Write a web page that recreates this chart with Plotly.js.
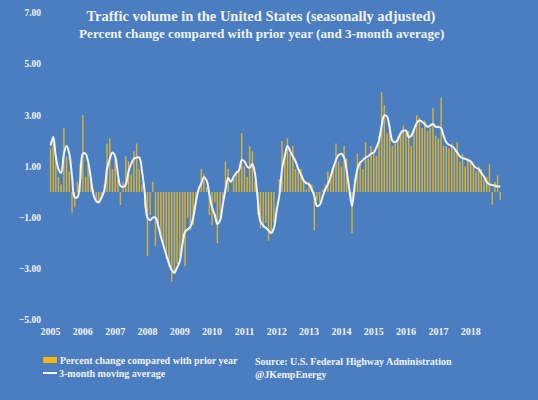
<!DOCTYPE html>
<html>
<head>
<meta charset="utf-8">
<script src="https://cdn.plot.ly/plotly-3.0.1.min.js"></script>
<style>
html,body{margin:0;padding:0;background:#4a7ec1;}
#chart{width:538px;height:400px;}
</style>
</head>
<body>
<div id="chart"></div>
<script>
// Years shown on the axis
const years = [2005,2006,2007,2008,2009,2010,2011,2012,2013,2014,2015,2016,2017,2018];

// Percent change compared with prior year (monthly, Jan 2005 - Dec 2018)
const pct2005 = [1.7, 2.2, 1.5, 0.6, 0.3, 2.5, 1.4, 0.8, -0.8, -0.6, 0.4, 1.1];
const pct2006 = [3.0, 0.6, 1.1, 0.5, 0.1, -0.3, -0.4, -0.1, 0.3, 1.9, 2.1, 0.9];
const pct2007 = [1.3, 0.5, -0.5, 0.4, 1.4, 1.2, 0.7, 1.6, 1.9, 0.9, 0.3, -0.6];
const pct2008 = [-2.5, -0.9, 0.4, -2.1, -1.4, -1.7, -2.1, -2.6, -2.9, -3.5, -3.2, -2.8];
const pct2009 = [-2.5, -2.0, -2.9, -1.0, -1.5, -1.3, -0.5, 0.2, 0.9, 0.7, 0.2, -0.9];
const pct2010 = [-1.3, -0.4, -2.0, -1.0, -0.3, 1.2, 0.9, 0.0, 0.5, 0.7, 0.9, 2.3];
const pct2011 = [1.0, 0.6, 1.8, 1.6, 0.4, -0.9, -1.4, -1.4, -1.2, -1.9, -1.6, -1.2];
const pct2012 = [0.0, 0.5, 2.0, 1.4, 2.1, 1.5, 1.8, 0.9, 0.8, 0.9, 0.4, 0.1];
const pct2013 = [0.4, 0.3, -1.5, -0.3, -0.4, 0.1, 0.3, 0.8, 0.7, 1.0, 1.9, 1.2];
const pct2014 = [1.0, 1.8, 1.3, -0.1, -1.6, 0.5, 1.5, 1.2, 0.9, 1.95, 1.3, 1.8];
const pct2015 = [1.5, 1.4, 2.2, 3.9, 3.4, 2.3, 2.6, 1.8, 1.9, 2.2, 2.3, 2.6];
const pct2016 = [2.3, 2.4, 1.8, 2.5, 3.0, 2.9, 2.5, 2.8, 2.4, 2.5, 3.3, 2.2];
const pct2017 = [2.1, 3.7, 1.8, 1.8, 1.7, 1.9, 1.6, 1.95, 1.2, 1.5, 1.0, 1.3];
const pct2018 = [1.2, 1.0, 0.8, 1.0, 0.9, 0.5, 0.6, 1.1, -0.5, 0.4, 0.65, -0.3];

// 3-month moving average
const avg2005 = [1.82, 2.14, 1.4, 0.9, 0.75, 1.5, 1.8, 1.5, 0.6, -0.2, -0.2, 0.4];
const avg2006 = [1.5, 1.5, 1.2, 0.55, -0.1, -0.35, -0.4, -0.2, 0.06, 0.9, 1.3, 1.55];
const avg2007 = [1.4, 0.7, 0.25, 0.2, 0.3, 0.8, 1.1, 1.3, 1.35, 1.35, 0.8, 0.0];
const avg2008 = [-1.0, -1.1, -1.0, -1.0, -1.3, -1.75, -2.1, -2.45, -2.8, -3.05, -3.15, -2.95];
const avg2009 = [-2.7, -2.0, -1.55, -1.45, -1.35, -1.0, -0.4, 0.1, 0.35, 0.58, 0.45, -0.1];
const avg2010 = [-0.6, -0.9, -1.25, -1.1, -0.5, 0.1, 0.55, 0.4, 0.6, 0.75, 0.85, 1.25];
const avg2011 = [1.2, 1.0, 0.95, 1.1, 0.7, -0.3, -1.15, -1.3, -1.4, -1.5, -1.6, -1.4];
const avg2012 = [-0.7, -0.1, 0.9, 1.4, 1.8, 1.6, 1.4, 1.2, 0.9, 0.7, 0.45, 0.35];
const avg2013 = [0.3, 0.1, -0.15, -0.55, -0.5, -0.2, 0.1, 0.3, 0.6, 0.95, 1.25, 1.45];
const avg2014 = [1.5, 1.35, 0.85, 0.1, -0.55, 0.3, 0.9, 1.15, 1.25, 1.35, 1.4, 1.5];
const avg2015 = [1.55, 1.75, 2.0, 2.6, 3.0, 2.95, 2.5, 2.0, 1.95, 2.05, 2.3, 2.4];
const avg2016 = [2.4, 2.15, 2.2, 2.45, 2.7, 2.8, 2.75, 2.65, 2.55, 2.6, 2.66, 2.55];
const avg2017 = [2.55, 2.5, 2.2, 1.95, 1.85, 1.8, 1.7, 1.55, 1.4, 1.33, 1.3, 1.25];
const avg2018 = [1.2, 1.05, 0.95, 0.9, 0.75, 0.6, 0.4, 0.3, 0.28, 0.25, 0.22, 0.22];

const yTicks = [-5, -3, -1, 1, 3, 5, 7];

const barName = 'Percent change compared with prior year';
const lineName = '3-month moving average';

const pctChange = [].concat(pct2005,pct2006,pct2007,pct2008,pct2009,pct2010,pct2011,
  pct2012,pct2013,pct2014,pct2015,pct2016,pct2017,pct2018);
const avg3m = [].concat(avg2005,avg2006,avg2007,avg2008,avg2009,avg2010,avg2011,
  avg2012,avg2013,avg2014,avg2015,avg2016,avg2017,avg2018);

const months = [];
years.forEach(y => { for (let m = 1; m <= 12; m++) months.push(y + '-' + String(m).padStart(2,'0') + '-01'); });

const FONT = 'Liberation Serif, Times New Roman, serif';
const TXT = '#f2f2f2';
const BAR = '#dcb22c';
const LINE = '#eef3ff';

const traces = [
  {
    type: 'bar', x: months, y: pctChange, name: barName,
    marker: {color: BAR, line: {width: 0}}
  },
  {
    type: 'scatter', mode: 'lines', x: months, y: avg3m, name: lineName,
    line: {color: LINE, width: 2, shape: 'spline', smoothing: 1}
  }
];

// paper-coordinate helpers for the text block below the plot
const PL = 44, PW = 468, PB = 320, PH = 307;
const px2x = p => (p - PL) / PW;
const px2y = p => (PB - p) / PH;
const note = (text, x, y, extra) => Object.assign({
  text, xref: 'paper', yref: 'paper', x: px2x(x), y: px2y(y),
  xanchor: 'left', yanchor: 'middle', showarrow: false,
  font: {family: FONT, size: 10, color: TXT, weight: 'bold'}
}, extra || {});
// legend keys: small coloured boxes (annotation background, no visible text)
const key = (color, x, y, w, h) => note('\u00a0', x, y, {
  width: w, height: h, bgcolor: color, borderpad: 0, borderwidth: 0,
  font: {family: FONT, size: 1, color: color}
});

const layout = {
  width: 538, height: 400,
  paper_bgcolor: '#4a7ec1', plot_bgcolor: '#4a7ec1',
  margin: {l: PL, r: 538 - PL - PW, t: 13, b: 400 - PB},
  font: {family: FONT, color: TXT, size: 10, weight: 'bold'},
  bargap: 0.42,
  showlegend: false,
  title: {
    text: 'Traffic volume in the United States (seasonally adjusted)',
    font: {family: FONT, size: 14.5, color: TXT, weight: 'bold'},
    xref: 'container', yref: 'container', x: 0.485, xanchor: 'center',
    y: 1 - 16/400, yanchor: 'middle'
  },
  annotations: [
    note('Percent change compared with prior year (and 3-month average)', 261.5, 33,
         {xanchor: 'center', font: {family: FONT, size: 13.2, color: TXT, weight: 'bold'}}),
    key('#f2b705', 43, 360, 14, 6),
    note(barName, 58, 360),
    key('#ffffff', 43, 373, 14, 2),
    note(lineName, 57, 373),
    note('Source: U.S. Federal Highway Administration', 253, 361),
    note('@JKempEnergy', 253, 374)
  ],
  xaxis: {
    type: 'date',
    range: ['2004-10-19', '2019-04-13'],
    tickvals: years.map(y => y + '-01-01'),
    ticktext: years.map(String),
    showgrid: false, zeroline: false, showline: false, ticks: '',
    tickfont: {family: FONT, size: 10, color: TXT, weight: 'bold'},
    ticklabelstandoff: 4,
    fixedrange: true
  },
  yaxis: {
    range: [-5, 7],
    tickvals: yTicks,
    tickformat: '.2f',
    showgrid: false, zeroline: false, showline: false, ticks: '',
    tickfont: {family: FONT, size: 9.5, color: TXT, weight: 'bold'},
    ticklabelstandoff: 2,
    fixedrange: true
  }
};

Plotly.newPlot('chart', traces, layout, {displayModeBar: false, staticPlot: true});
</script>
</body>
</html>
